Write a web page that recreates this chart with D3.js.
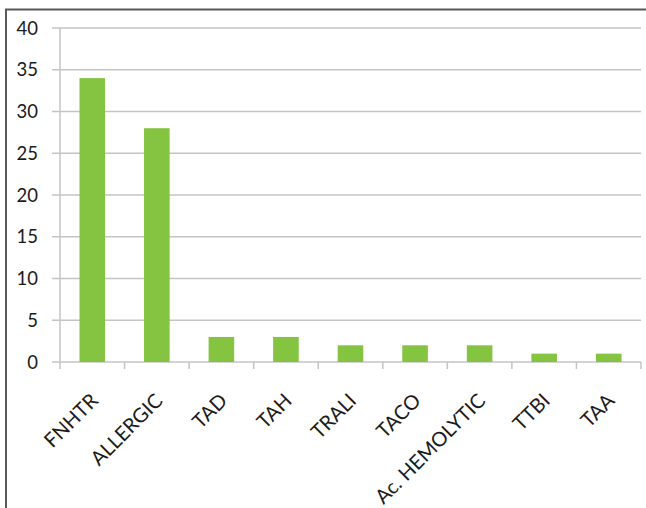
<!DOCTYPE html>
<html><head><meta charset="utf-8">
<script src="https://cdn.jsdelivr.net/npm/d3@7"></script>
<style>html,body{margin:0;padding:0;background:#fff;overflow:hidden;} svg{display:block;}</style>
</head><body>
<svg id="c" width="646" height="508"></svg>
<script>
const categories = ["FNHTR","ALLERGIC","TAD","TAH","TRALI","TACO","Ac. HEMOLYTIC","TTBI","TAA"];
const values = [34, 28, 3, 3, 2, 2, 2, 1, 1];
const yTicks = [0, 5, 10, 15, 20, 25, 30, 35, 40];

(function () {
const svg = d3.select("#c");
const font = "Lato, 'Open Sans', sans-serif";
// outer frame
svg.append("rect").attr("x", 6).attr("y", 9.5).attr("width", 700).attr("height", 600)
  .attr("fill", "none").attr("stroke", "#5a5a5a").attr("stroke-width", 2);

const mLeft = 60, mRight = 641, mTop = 28, mBottom = 362;
const xb = d3.scaleBand().domain(categories).range([mLeft, mRight]);
const y = d3.scaleLinear().domain([0, 40]).range([mBottom, mTop]);

// gridlines
svg.append("g").selectAll("line").data(yTicks).join("line")
  .attr("x1", mLeft - 8).attr("x2", mRight).attr("y1", d => y(d)).attr("y2", d => y(d))
  .attr("stroke", "#c4c4c4").attr("stroke-width", 1.5);

// y axis line
svg.append("line").attr("x1", mLeft).attr("x2", mLeft).attr("y1", mTop).attr("y2", mBottom + 7)
  .attr("stroke", "#c4c4c4").attr("stroke-width", 1.5);
// x category ticks
svg.append("g").selectAll("line").data(categories).join("line")
  .attr("x1", d => xb(d) + xb.bandwidth()).attr("x2", d => xb(d) + xb.bandwidth())
  .attr("y1", mBottom).attr("y2", mBottom + 7)
  .attr("stroke", "#c4c4c4").attr("stroke-width", 1.5);

// y labels
svg.append("g").selectAll("text").data(yTicks).join("text")
  .attr("x", 38).attr("y", d => y(d)).attr("dy", "0.36em")
  .attr("text-anchor", "end").attr("font-family", font).attr("font-size", 18.5)
  .attr("fill", "#1a1a1a").text(d => d);

// bars
svg.append("g").selectAll("rect").data(values).join("rect")
  .attr("x", (d, i) => xb(categories[i]) + xb.bandwidth() / 2 - 12.8)
  .attr("width", 25.6)
  .attr("y", d => y(d)).attr("height", d => y(0) - y(d))
  .attr("fill", "#84c441");

// x labels
svg.append("g").selectAll("text").data(categories).join("text")
  .attr("transform", d => `translate(${xb(d) + xb.bandwidth() / 2 + 7},${mBottom + 40}) rotate(-45)`)
  .attr("text-anchor", "end").attr("font-family", font).attr("font-size", 20)
  .attr("fill", "#1a1a1a").text(d => d);
})();
</script>
</body></html>
